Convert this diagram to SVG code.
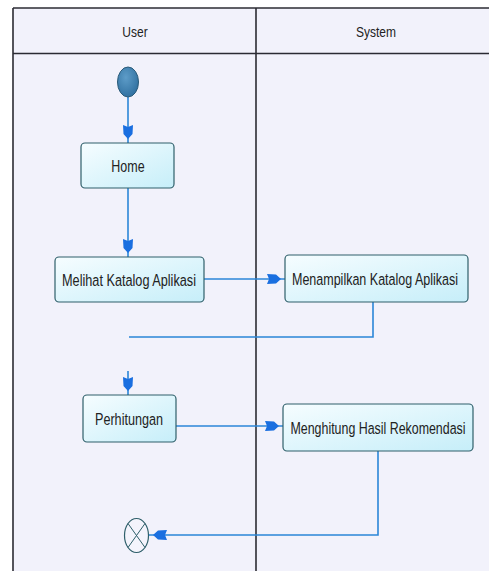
<svg xmlns="http://www.w3.org/2000/svg" width="489" height="571" viewBox="0 0 489 571">
<defs>
<linearGradient id="boxg" x1="0" y1="0" x2="1" y2="1">
<stop offset="0" stop-color="#f6fdff"/>
<stop offset="1" stop-color="#c6eef9"/>
</linearGradient>
<radialGradient id="startg" cx="0.4" cy="0.35" r="0.7">
<stop offset="0" stop-color="#5d9cc8"/>
<stop offset="1" stop-color="#2f6f9f"/>
</radialGradient>
<marker id="arr" markerUnits="userSpaceOnUse" markerWidth="22" markerHeight="14" viewBox="-16 -7 22 14" refX="4" refY="0" orient="auto">
<path d="M0,0 L-5,-4.5 L-14,-5 L-12,0 L-14,5 L-5,4.5 Z" fill="#1a6fe0"/>
</marker>
</defs>
<style>
.lane{fill:none;stroke:#2b2b33;stroke-width:1.6}
.box{fill:url(#boxg);stroke:#2f5f6a;stroke-width:1.2}
.lbl{font-family:"Liberation Sans",Arial,sans-serif;font-size:12.5px;fill:#222;text-anchor:middle}
.hdr{font-family:"Liberation Sans",Arial,sans-serif;font-size:12px;fill:#222;text-anchor:middle}
.con{fill:none;stroke:#2b86d8;stroke-width:1.6}
</style>
<rect x="0" y="0" width="489" height="571" fill="#ffffff"/>
<rect x="13" y="8" width="480" height="570" fill="#f2f2fb"/>
<g id="lanes">
<line class="lane" x1="13" y1="8" x2="489" y2="8"/>
<line class="lane" x1="13" y1="53.5" x2="489" y2="53.5"/>
<line class="lane" x1="13" y1="8" x2="13" y2="571"/>
<line class="lane" x1="256" y1="8" x2="256" y2="571"/>
<text class="hdr" transform="translate(135,37) scale(1,1.2)">User</text>
<text class="hdr" transform="translate(376,37) scale(1,1.2)">System</text>
</g>
<g id="connectors">
<line class="con" x1="128" y1="97" x2="128" y2="143" marker-end="url(#arr)"/>
<line class="con" x1="128" y1="188" x2="128" y2="257" marker-end="url(#arr)"/>
<line class="con" x1="204" y1="279" x2="285" y2="279" marker-end="url(#arr)"/>
<polyline class="con" points="373,302 373,337 129,337"/>
<line class="con" x1="128" y1="371" x2="128" y2="395" marker-end="url(#arr)"/>
<line class="con" x1="176" y1="426" x2="283" y2="426" marker-end="url(#arr)"/>
<polyline class="con" points="378,451 378,535 149,535" marker-end="url(#arr)"/>
</g>
<g id="start">
<ellipse cx="128" cy="82" rx="10.5" ry="15" fill="url(#startg)" stroke="#2a5a78" stroke-width="1"/>
</g>
<g id="home">
<rect class="box" x="81" y="143" width="93" height="45" rx="4"/>
<text class="lbl" transform="translate(128,172) scale(1,1.25)">Home</text>
</g>
<g id="melihat">
<rect class="box" x="55" y="257" width="149" height="45" rx="4"/>
<text class="lbl" transform="translate(129,286) scale(1,1.25)" textLength="134" lengthAdjust="spacingAndGlyphs">Melihat Katalog Aplikasi</text>
</g>
<g id="menampilkan">
<rect class="box" x="285" y="255" width="183" height="47" rx="4"/>
<text class="lbl" transform="translate(375,285) scale(1,1.25)" textLength="166" lengthAdjust="spacingAndGlyphs">Menampilkan Katalog Aplikasi</text>
</g>
<g id="perhitungan">
<rect class="box" x="83" y="395" width="93" height="47" rx="4"/>
<text class="lbl" transform="translate(129,425) scale(1,1.25)" textLength="68" lengthAdjust="spacingAndGlyphs">Perhitungan</text>
</g>
<g id="menghitung">
<rect class="box" x="283" y="404" width="190" height="47" rx="4"/>
<text class="lbl" transform="translate(378,434) scale(1,1.25)" textLength="175" lengthAdjust="spacingAndGlyphs">Menghitung Hasil Rekomendasi</text>
</g>
<g id="end">
<ellipse cx="136.5" cy="535.5" rx="12" ry="17" fill="#f4f4fc" stroke="#2f5f6a" stroke-width="1.2"/>
<line x1="128" y1="523.5" x2="145" y2="547.5" stroke="#2f5f6a" stroke-width="1"/>
<line x1="145" y1="523.5" x2="128" y2="547.5" stroke="#2f5f6a" stroke-width="1"/>
</g>
</svg>
